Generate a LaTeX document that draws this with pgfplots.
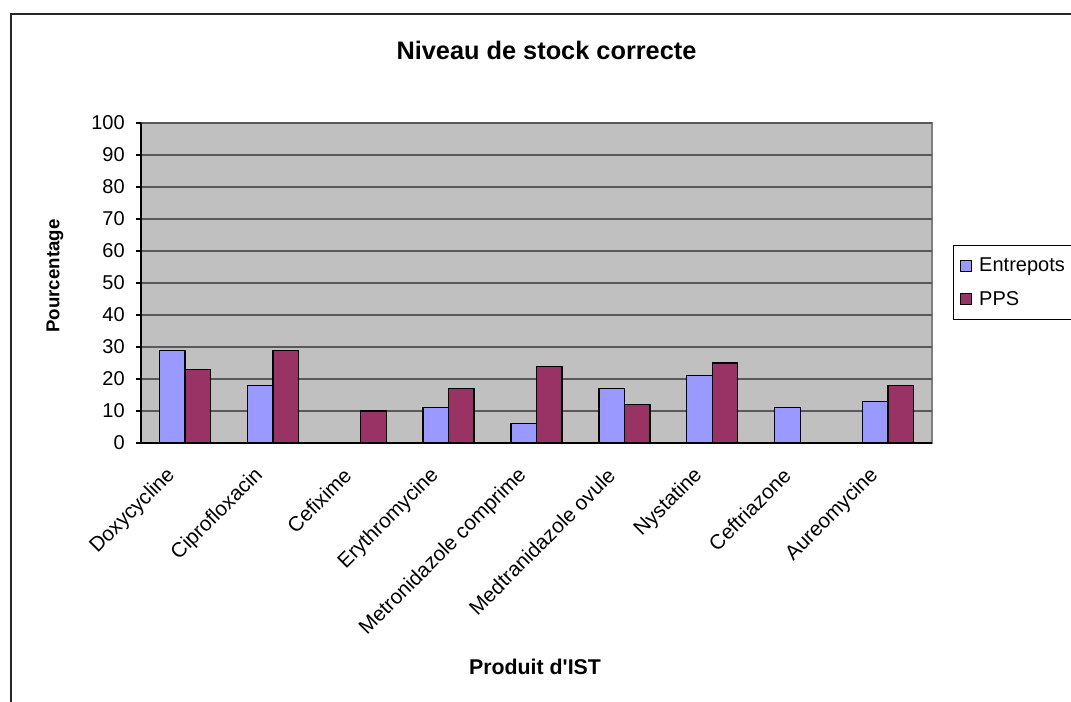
\documentclass[border=0pt]{standalone}
\usepackage{pgfplots}
\pgfplotsset{compat=1.18}
\usepackage{fontspec}
\setmainfont{Liberation Sans}

\definecolor{entrepots}{HTML}{9999FF}
\definecolor{pps}{HTML}{993366}
\definecolor{plotbg}{HTML}{C0C0C0}

\begin{document}
\begin{tikzpicture}[x=0.75pt,y=0.75pt]
% page frame
\useasboundingbox (0,0) rectangle (1071,702);
\draw[line width=1.1pt, black!85] (11,0) -- (11,688) -- (1080,688);

% title and axis titles
\node[font=\fontsize{19}{22}\selectfont\bfseries] at (546.5,652) {Niveau de stock correcte};
\node[font=\fontsize{14}{17}\selectfont\bfseries, rotate=90] at (55,426) {Pourcentage};
\node[font=\fontsize{16}{19}\selectfont\bfseries] at (535,35) {Produit d\textquotesingle IST};

\begin{axis}[
  at={(105.75pt,194.25pt)}, anchor=south west,
  scale only axis, width=593.25pt, height=240pt,
  ybar=0pt, bar width=0.29,
  xmin=-0.5, xmax=8.5, ymin=0, ymax=100,
  axis background/.style={fill=plotbg, draw=black!50, line width=1.2pt},
  axis x line*=bottom, axis y line*=left,
  axis line style={black, line width=1pt, -},
  xtick={0,...,8},
  xticklabels={Doxycycline,Ciprofloxacin,Cefixime,Erythromycine,Metronidazole comprime,Medtranidazole ovule,Nystatine,Ceftriazone,Aureomycine},
  x tick style={draw=none},
  extra x ticks={-0.5,0.5,...,8.5},
  extra x tick labels={},
  extra x tick style={grid=none, major tick length=3.75pt, tick style={draw=black, line width=0.8pt}},
  ytick={0,10,...,100},
  tick align=outside, major tick length=3.75pt,
  y tick style={black, line width=0.8pt},
  ymajorgrids, grid style={black!65, line width=0.8pt},
  /pgf/number format/assume math mode=true,
  yticklabel style={font=\fontsize{15}{17}\selectfont, inner sep=0pt, xshift=-8.25pt},
  xticklabel style={font=\fontsize{15.5}{18}\selectfont, xshift=-9.75pt, yshift=-18pt, rotate=45, anchor=east, inner sep=0pt},
  legend style={at={(1.0265,0.619)}, anchor=north west, draw=black, line width=0.6pt,
    font=\fontsize{15}{17}\selectfont, inner xsep=5pt, inner ysep=7.5pt, row sep=9pt},
  legend cell align=left,
  legend image code/.code={
    \draw[#1, draw=black, line width=0.8pt] (0pt,-4pt) rectangle (8.25pt,4.25pt);
    \path[draw=none, fill=none] (0pt,0pt) -- (12pt,0pt);},
  every axis plot/.append style={draw=black, line width=1pt},
]
\addplot[fill=entrepots] coordinates {(0,29) (1,18) (3,11) (4,6) (5,17) (6,21) (7,11) (8,13)};
\addplot[fill=pps] coordinates {(0,23) (1,29) (2,10) (3,17) (4,24) (5,12) (6,25) (8,18)};
\legend{Entrepots,PPS}
\end{axis}
\end{tikzpicture}
\end{document}
